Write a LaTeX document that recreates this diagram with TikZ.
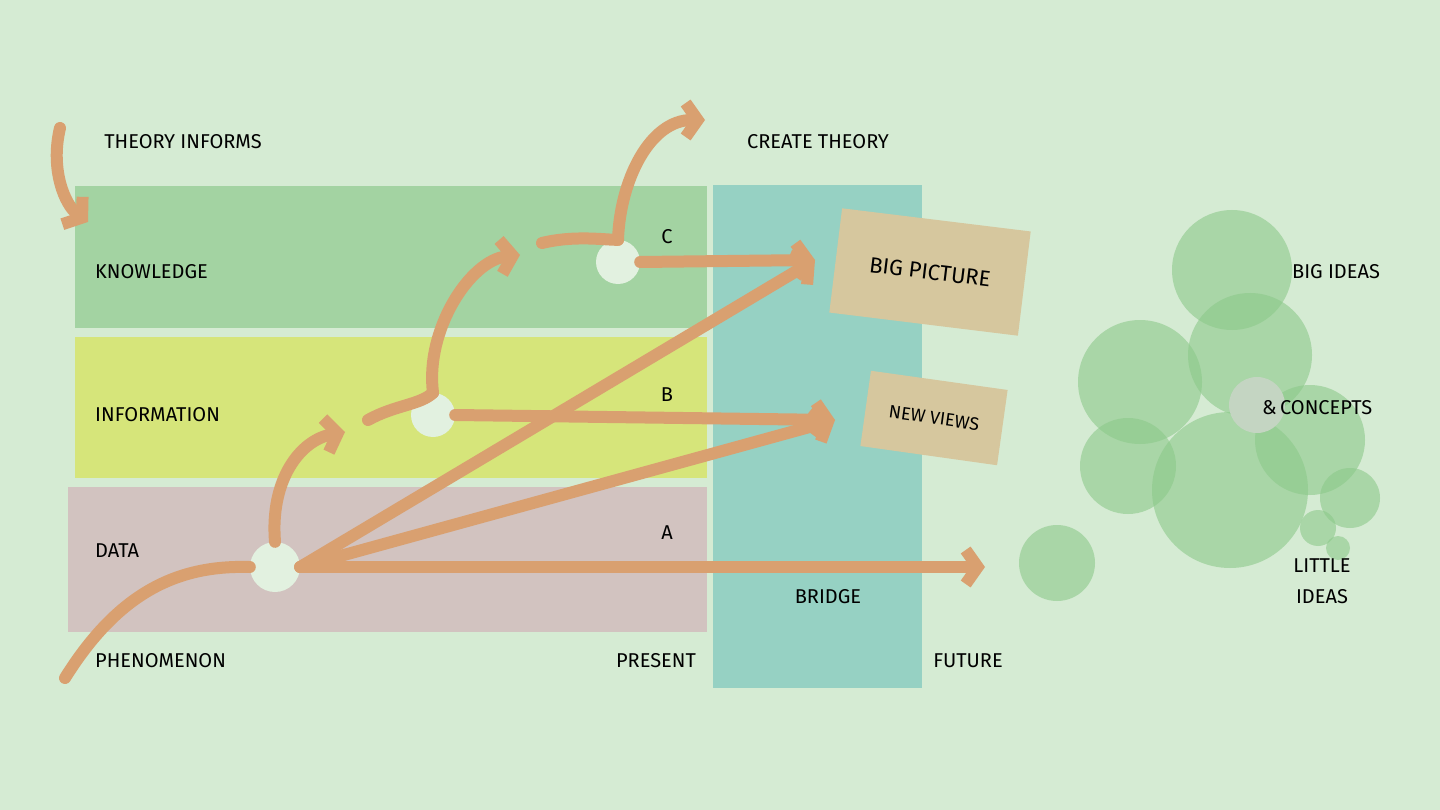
\documentclass[tikz,border=0pt]{standalone}
\usepackage{fontspec}
\setmainfont{Fira Sans}
\usetikzlibrary{arrows.meta,positioning}
\definecolor{bg}{HTML}{D5EBD3}
\definecolor{know}{HTML}{A3D3A2}
\definecolor{info}{HTML}{D6E57A}
\definecolor{datac}{HTML}{D2C3C0}
\definecolor{bridgec}{HTML}{96D1C3}
\definecolor{boxc}{HTML}{D6C79E}
\definecolor{flow}{HTML}{D9A070}
\definecolor{idea}{HTML}{8CC98A}
\begin{document}
\begin{tikzpicture}[x=1pt,y=-1pt,
    lbl/.style={font=\fontsize{20}{22}\selectfont,inner sep=0pt},
    card/.style={fill=boxc,inner sep=0pt,minimum width=#1,minimum height=0pt},
    flowline/.style={draw=flow,line width=12pt,line cap=round},
    flowarrow/.style={flowline,-{Straight Barb[length=12pt,width=34pt]}},
    hub/.style={circle,fill=bg!70!white,draw=none,minimum size=50pt,inner sep=0pt},
    bubble/.style={circle,fill=idea,fill opacity=0.6,inner sep=0pt,minimum size=#1}]
 \fill[bg] (0,0) rectangle (1440,810);
 \useasboundingbox (0,0) rectangle (1440,810);
 % layers
 \fill[know] (75,186) rectangle (707,328);
 \fill[info] (75,337) rectangle (707,478);
 \fill[datac] (68,487) rectangle (707,632);
 \fill[bridgec] (713,185) rectangle (922,688);
 % cards
 \node[card=190pt,minimum height=105pt,rotate=-7] (bigpic) at (930,272) {};
 \node[lbl,rotate=-7,font=\fontsize{22}{24}\selectfont] at (bigpic) {BIG PICTURE};
 \node[card=138pt,minimum height=76pt,rotate=-8] (newviews) at (934,418) {};
 \node[lbl,rotate=-8,font=\fontsize{18}{20}\selectfont] at (newviews) {NEW VIEWS};
 % hubs
 \node[hub] (hubA) at (275,567) {};
 \node[hub,minimum size=44pt] (hubB) at (433,415) {};
 \node[hub,minimum size=44pt] (hubC) at (618,262) {};
 \coordinate (phen) at (65,678);
 \coordinate (futureend) at (985,567);
 \coordinate (theorystart) at (60,128);
 \coordinate (theoryend) at (88,222);
 \coordinate (createend) at (705,120);
 \coordinate (stepA) at (345,432);
 \coordinate (stepB) at (520,255);
 \coordinate (bigin) at (815,260);
 \coordinate (newin) at (835,420);
 % flows
 \draw[flowline] (phen) .. controls (120,590) and (180,565) .. (hubA.west);
 \draw[flowarrow] (hubA.east) -- (futureend);
 \draw[flowarrow] (hubA.east) -- (bigin);
 \draw[flowarrow] (hubA.east) -- (newin);
 \draw[flowarrow] (hubB.east) -- (newin);
 \draw[flowarrow] (hubC.east) -- (bigin);
 \draw[flowarrow] (hubA.north) .. controls (270,480) and (300,440) .. (stepA);
 \draw[flowline] (368,420) .. controls (395,405) and (420,405) .. (hubB.north);
 \draw[flowarrow] (hubB.north) .. controls (425,330) and (470,260) .. (stepB);
 \draw[flowline] (542,243) .. controls (575,235) and (605,240) .. (hubC.north);
 \draw[flowarrow] (hubC.north) .. controls (620,180) and (650,120) .. (createend);
 \draw[flowarrow] (theorystart) .. controls (50,170) and (65,205) .. (theoryend);
 % ideas
 \foreach \X/\Y/\R [count=\N] in {1057/563/76,1232/270/120,1140/382/124,1250/355/124,1128/466/96,1230/490/156,1310/440/110,1350/498/60,1318/528/36,1338/548/24}
  \node[bubble=\R pt] (idea-\N) at (\X,\Y) {};
 \node[circle,fill=gray!20!bg,minimum size=56pt,inner sep=0pt] (amp) at (1257,405) {};
 % labels
 \node[lbl] at (183,142) {THEORY INFORMS};
 \node[lbl] at (818,142) {CREATE THEORY};
 \node[lbl,anchor=west] at (95,272) {KNOWLEDGE};
 \node[lbl,anchor=west] at (95,415) {INFORMATION};
 \node[lbl,anchor=west] at (95,551) {DATA};
 \node[lbl,anchor=west] at (95,661) {PHENOMENON};
 \node[lbl] at (656,661) {PRESENT};
 \node[lbl] at (968,661) {FUTURE};
 \node[lbl] at (828,597) {BRIDGE};
 \node[lbl] at (667,533) {A};
 \node[lbl] at (667,395) {B};
 \node[lbl] at (667,237) {C};
 \node[lbl] at (1336,272) {BIG IDEAS};
 \node[lbl,anchor=west] at (1262,408) {\&\,CONCEPTS};
 \node[lbl,align=center,font=\fontsize{20}{31}\selectfont] at (1322,581) {LITTLE\\IDEAS};
\end{tikzpicture}
\end{document}
